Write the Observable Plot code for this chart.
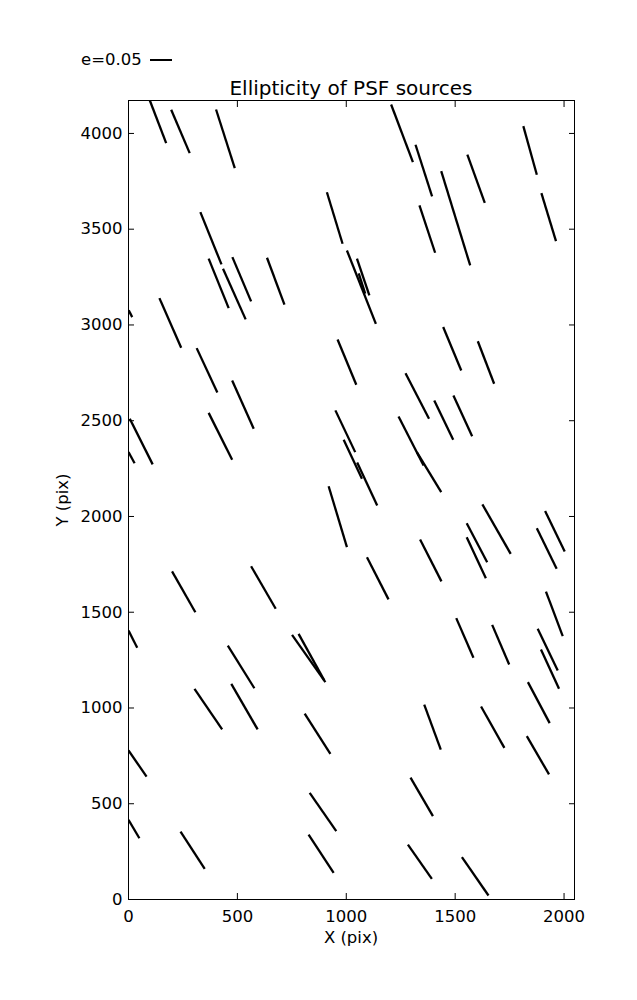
<!DOCTYPE html>
<html>
<head>
<meta charset="utf-8">
<script src="https://cdn.jsdelivr.net/npm/d3@7"></script>
<script src="https://cdn.jsdelivr.net/npm/@observablehq/plot@0.6"></script>
<style>
  html, body { margin: 0; padding: 0; background: white; }
  #wrap { position: relative; width: 637px; height: 1000px; font-family: "DejaVu Sans", sans-serif; color: black; }
  #wrap svg { position: absolute; left: 0; top: 0; }
  .lbl { position: absolute; font-size: 16.5px; white-space: nowrap; line-height: 1; }
</style>
</head>
<body>
<div id="wrap"></div>
<script>
// Whisker endpoints in detector pixel units (X, Y)
const x1 = [98,196,402,330,368,434,477,636,911,1003,1049,1057,1206,1318,1436,1556,1813,1896,1336,1,
  142,313,476,368,6,0,960,950,988,1050,1445,1604,1272,1404,1492,1240,1324,919,200,563,
  0,456,751,781,303,472,1095,1339,1553,1553,1625,1875,1913,1917,1505,1670,1879,1894,1834,809,
  0,832,0,239,827,1358,1619,1829,1295,1283,1531];
const y1 = [4172,4124,4125,3589,3346,3293,3354,3351,3693,3389,3346,3269,4151,3941,3803,3889,4038,3688,3624,3076,
  3140,2879,2710,2541,2510,2336,2924,2554,2400,2282,2989,2915,2748,2606,2632,2522,2336,2158,1713,1740,
  1405,1326,1382,1387,1100,1126,1787,1880,1965,1892,2063,1939,2028,1608,1469,1434,1414,1305,1135,970,
  778,557,416,355,339,1018,1008,853,636,287,221];
const x2 = [173,281,488,427,460,538,563,716,983,1136,1106,1087,1306,1394,1569,1636,1875,1963,1408,17,
  242,408,575,476,111,28,1046,1041,1072,1142,1528,1679,1380,1491,1578,1355,1436,1003,307,676,
  40,578,904,899,430,593,1194,1437,1647,1641,1755,1966,2003,1994,1584,1748,1971,1977,1934,927,
  83,954,50,350,942,1434,1726,1931,1398,1393,1653];
const y2 = [3949,3897,3819,3316,3088,3029,3123,3106,3424,3006,3154,3164,3850,3671,3311,3638,3784,3438,3377,3041,
  2881,2647,2458,2296,2272,2278,2688,2336,2197,2057,2762,2693,2510,2401,2419,2266,2127,1840,1500,1518,
  1314,1103,1135,1144,888,888,1567,1661,1761,1678,1805,1727,1817,1375,1262,1227,1196,1100,921,761,
  642,357,320,160,139,783,792,653,435,108,21];

const xTicks = [0, 500, 1000, 1500, 2000];
const yTicks = [0, 500, 1000, 1500, 2000, 2500, 3000, 3500, 4000];
const xDomain = [0, 2048];
const yDomain = [0, 4172];

const title = "Ellipticity of PSF sources";
const xLabel = "X (pix)";
const yLabel = "Y (pix)";
const legendLabel = "e=0.05";

const idx = d3.range(x1.length);

const chart = Plot.plot({
  width: 637,
  height: 1000,
  marginLeft: 128,
  marginRight: 63,
  marginTop: 100,
  marginBottom: 101,
  x: {domain: xDomain},
  y: {domain: yDomain},
  style: {fontFamily: "DejaVu Sans", fontSize: "16.5px", color: "black", background: "white", overflow: "visible"},
  marks: [
    Plot.link(idx, {
      x1: i => x1[i], y1: i => y1[i], x2: i => x2[i], y2: i => y2[i],
      stroke: "black", strokeWidth: 2.3, clip: true
    }),
    Plot.frame({stroke: "black", strokeWidth: 1}),
    Plot.axisX({ticks: xTicks, tickSize: -6, tickPadding: 17, label: null, fill: "black", stroke: "black", tickFormat: d => String(d)}),
    Plot.axisX({anchor: "top", ticks: xTicks, tickSize: -6, tickFormat: () => "", label: null, stroke: "black"}),
    Plot.axisY({ticks: yTicks, tickSize: -6, tickPadding: 12, label: null, fill: "black", stroke: "black", tickFormat: d => String(d)}),
    Plot.axisY({anchor: "right", ticks: yTicks, tickSize: -6, tickFormat: () => "", label: null, stroke: "black"})
  ]
});

const wrap = document.getElementById("wrap");
wrap.appendChild(chart);

function addLabel(text, left, top, fs, extra) {
  const d = document.createElement("div");
  d.className = "lbl";
  d.textContent = text;
  d.style.left = left + "px";
  d.style.top = top + "px";
  d.style.fontSize = fs + "px";
  if (extra) Object.assign(d.style, extra);
  wrap.appendChild(d);
  return d;
}
// title centred over plot
addLabel(title, 351, 78, 20, {transform: "translateX(-50%)"});
// axis labels
addLabel(xLabel, 351, 930, 16.5, {transform: "translateX(-50%)"});
addLabel(yLabel, 63, 500, 16.5, {transform: "translate(-50%,-50%) rotate(-90deg)", transformOrigin: "center"});
// legend
addLabel(legendLabel, 81, 52, 16.5);
const leg = document.createElement("div");
leg.style.cssText = "position:absolute;left:150px;top:59px;width:22px;height:2px;background:black;";
wrap.appendChild(leg);
</script>
</body>
</html>
